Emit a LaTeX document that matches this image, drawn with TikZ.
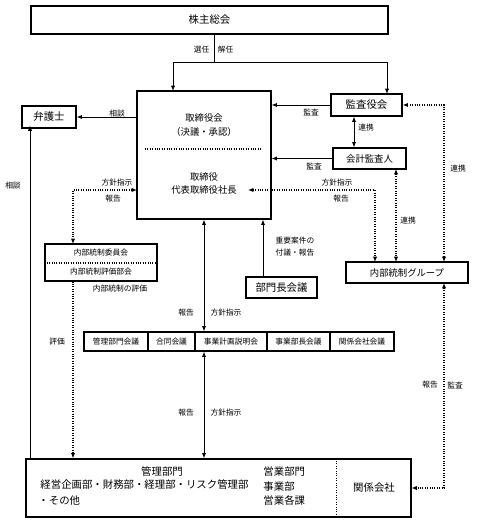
\documentclass[tikz,border=0pt]{standalone}
\usepackage{fontspec}
\setmainfont{Noto Sans CJK JP}
\usetikzlibrary{arrows.meta}

\begin{document}
\begin{tikzpicture}[x=0.75pt, y=-0.75pt, line width=0.7pt,
  every node/.style={inner sep=0pt},
  box/.style={draw, line width=0.9pt},
  big/.style={font=\fontsize{7.8}{9}\selectfont},
  mid/.style={font=\fontsize{7}{10}\selectfont},
  small/.style={font=\fontsize{5.8}{9}\selectfont},
  arr/.style={-{Latex[length=4pt,width=3.2pt]}},
  darr/.style={{Latex[length=4pt,width=3.2pt]}-{Latex[length=4pt,width=3.2pt]}},
  dotline/.style={densely dotted, line width=0.8pt}]
\useasboundingbox (0,0) rectangle (480,523);

% boxes
\node[box, big, minimum width=267.75pt, minimum height=21pt] (SH) at (209.5,20) {株主総会};
\node[box, minimum width=100.5pt, minimum height=96pt] (Board) at (204,155) {};
\node[mid, align=center] (BoardT1) at (204,125) {取締役会\\（決議・承認）};
\node[mid, align=center] (BoardT2) at (204,183.5) {取締役\\代表取締役社長};
\node[box, big, minimum width=40.5pt, minimum height=16.5pt] (Lawyer) at (49,117) {弁護士};
\node[box, big, minimum width=53.25pt, minimum height=16.5pt] (Kansa) at (366.5,105) {監査役会};
\node[box, mid, minimum width=54.75pt, minimum height=15.75pt] (Kaikei) at (369.5,158.5) {会計監査人};
\node[box, minimum width=84pt, minimum height=27.75pt] (ICC) at (101,262.5) {};
\node[small] (ICC1) at (101,253) {内部統制委員会};
\node[small] (ICC2) at (101,272) {内部統制評価部会};
\node[box, mid, minimum width=91.5pt, minimum height=15.75pt] (ICG) at (407,272.5) {内部統制グループ};
\node[box, big, minimum width=53.25pt, minimum height=15.75pt] (Heads) at (281.5,287.5) {部門長会議};

% meetings
\node[box, small, minimum width=48pt, minimum height=14.25pt] (M1) at (116,341.5) {管理部門会議};
\node[box, small, minimum width=35.25pt, minimum height=14.25pt] (M2) at (171.5,341.5) {合同会議};
\node[box, small, minimum width=54pt, minimum height=14.25pt] (M3) at (231,341.5) {事業計画説明会};
\node[box, small, minimum width=47.25pt, minimum height=14.25pt] (M4) at (298.5,341.5) {事業部長会議};
\node[box, small, minimum width=48pt, minimum height=14.25pt] (M5) at (362,341.5) {関係会社会議};

% divisions
\node[box, minimum width=288.75pt, minimum height=43.5pt] (Div) at (218.5,488) {};
\node[big, minimum width=55.5pt, minimum height=43.5pt] (Aff) at (374,488) {関係会社};
\node[big] (D1) at (162,472) {管理部門};
\node[big, anchor=west] (D2) at (40,485) {経営企画部・財務部・経理部・リスク管理部};
\node[big, anchor=west] (D3) at (38,501) {・その他};
\node[big, anchor=west] (D4) at (263,472) {営業部門};
\node[big, anchor=west] (D5) at (263,486.5) {事業部};
\node[big, anchor=west] (D6) at (263,501) {営業各課};

% separators
\draw[dotline] (145,149) -- (262,149);
\draw[dotline] (ICC.west |- 0,263) -- (ICC.east |- 0,263);
\draw[dotline] (Aff.north west) -- (Aff.south west);

% attach points
\coordinate (J) at (214,62);
\coordinate (BoardIn) at (173,91);
\coordinate (KansaIn) at (387,94);
\coordinate (BoardL) at (137,190);
\coordinate (ICCTop) at (73,244);
\coordinate (ShachoR) at (248,190);
\coordinate (ICGTop1) at (375,262);
\coordinate (KaikeiB) at (396,169);
\coordinate (ICGTop2) at (396,262);
\coordinate (ICGTop3) at (444,262);
\coordinate (ICGBot) at (444,283);
\coordinate (HeadsT) at (263,277);
\coordinate (LawB) at (30,125.5);
\coordinate (DivL) at (30,459);

% connectors
\draw (J |- SH.south) -- (J);
\draw[arr] (J) -| (BoardIn);
\draw[arr] (J) -| (KansaIn);
\draw[arr] (Board.west |- Lawyer) -- (Lawyer.east);
\draw[arr] (Kansa.west) -- (Kansa.west -| Board.east);
\draw[arr] (Kaikei.west) -- (Kaikei.west -| Board.east);
\draw[darr] (Kansa.south -| 354,0) -- (Kaikei.north -| 354,0);
\draw[dotline, darr] (BoardL) -| (ICCTop);
\draw[dotline, darr] (ShachoR) -| (ICGTop1);
\draw[dotline, darr] (KaikeiB) -- (ICGTop2);
\draw[dotline, darr] (Kansa.east) -| (ICGTop3);
\draw[dotline, darr] (ICGBot) |- (Aff.east);
\draw[darr] (Board.south) -- (Board.south |- M3.north);
\draw[darr] (Board.south |- M3.south) -- (Board.south |- Div.north);
\draw[arr] (HeadsT) -- (HeadsT |- Board.south);
\draw[dotline, arr] (ICCTop |- ICC.south) -- (ICCTop |- Div.north);
\draw[arr] (DivL) -- (LawB);

% labels
\node[small] (L1) at (201.5,50) {選任};
\node[small] (L2) at (225.5,50) {解任};
\node[small] (L3) at (117,114) {相談};
\node[small] (L4) at (311,112) {監査};
\node[small] (L5) at (314,166) {監査};
\node[small] (L6) at (366,128) {連携};
\node[small] (L7) at (117,183) {方針指示};
\node[small] (L8) at (113,199) {報告};
\node[small] (L9) at (337,183) {方針指示};
\node[small] (L10) at (341,199) {報告};
\node[small] (L11) at (458,169) {連携};
\node[small] (L12) at (408,221) {連携};
\node[small, align=left] (L13) at (295,247) {重要案件の\\付議・報告};
\node[small] (L14) at (120,289) {内部統制の評価};
\node[small] (L15) at (186,313) {報告};
\node[small] (L16) at (226,313) {方針指示};
\node[small] (L17) at (13,186) {相談};
\node[small] (L18) at (57,342) {評価};
\node[small] (L19) at (186,413) {報告};
\node[small] (L20) at (226,413) {方針指示};
\node[small] (L21) at (430,385) {報告};
\node[small] (L22) at (455,385) {監査};
\end{tikzpicture}
\end{document}
